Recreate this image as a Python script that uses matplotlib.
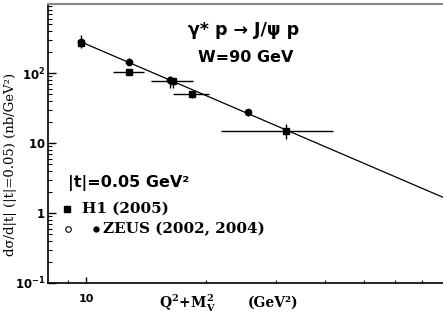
import matplotlib
matplotlib.use('Agg')
import matplotlib.pyplot as plt
import numpy as np
from matplotlib.ticker import FixedLocator, NullFormatter, FixedFormatter
from matplotlib.lines import Line2D

plt.rcParams['mathtext.fontset'] = 'custom'
plt.rcParams['mathtext.rm'] = 'DejaVu Serif:bold'
plt.rcParams['mathtext.bf'] = 'DejaVu Serif:bold'
plt.rcParams['mathtext.it'] = 'DejaVu Serif:bold'
plt.rcParams['mathtext.sf'] = 'DejaVu Sans:bold'

# ---- data ----
h1_x = [9.7, 12.8, 16.6, 18.5, 31.9]
h1_y = [272, 104, 77, 50, 14.7]
h1_xlo = [9.7, 11.7, 14.6, 16.6, 21.9]
h1_xhi = [9.7, 14.0, 18.6, 20.4, 41.8]
h1_ylo = [228, 94, 62, 44, 11.4]
h1_yhi = [345, 112, 86, 55, 18.7]

zeus_x = [9.7, 12.8, 16.3, 25.6]
zeus_y = [282, 145, 79, 27.5]
zeus_ylo = [250, 130, 62, 24]
zeus_yhi = [320, 162, 90, 31]

fit_x0 = 9.7
fit_norm = 280.0
fit_slope = 2.44
fit_range = [9.7, 100.0]

ytick_vals = [0.1, 1, 10, 100]
ytick_labels = [r'$\mathsf{10^{-1}}$', r'$\mathsf{1}$', r'$\mathsf{10}$', r'$\mathsf{10^{2}}$']
xtick_vals = [10]
xtick_labels = ['10']

# ---- figure ----
fig = plt.figure(figsize=(4.43, 3.17), dpi=100)
ax = fig.add_axes([48/443, 1-283/317, 1-48/443, 279/317])
ax.set_xscale('log')
ax.set_yscale('log')
ax.set_xlim(8.03, 79)
ax.set_ylim(0.1, 970)

# fit line
fx = np.logspace(np.log10(fit_range[0]), np.log10(fit_range[1]), 50)
fy = fit_norm * (fx / fit_x0) ** (-fit_slope)
ax.plot(fx, fy, color='black', lw=0.9, zorder=2)

# H1
h1_x_a = np.array(h1_x); h1_y_a = np.array(h1_y)
xerr = [h1_x_a - np.array(h1_xlo), np.array(h1_xhi) - h1_x_a]
yerr = [h1_y_a - np.array(h1_ylo), np.array(h1_yhi) - h1_y_a]
ax.errorbar(h1_x_a, h1_y_a, xerr=xerr, yerr=yerr, fmt='s', ms=5, color='black',
            ecolor='black', elinewidth=1.0, capsize=0, zorder=3)

# ZEUS
zx = np.array(zeus_x); zy = np.array(zeus_y)
zerr = [zy - np.array(zeus_ylo), np.array(zeus_yhi) - zy]
ax.errorbar(zx, zy, yerr=zerr, fmt='o', ms=4.5, color='black', ecolor='black',
            elinewidth=1.0, capsize=0, zorder=3)

# axes styling
ax.spines['right'].set_visible(False)
ax.spines['top'].set_color('#888888')
ax.spines['top'].set_linewidth(1.5)
ax.spines['left'].set_linewidth(1.2)
ax.spines['bottom'].set_linewidth(1.2)

ax.yaxis.set_major_locator(FixedLocator(ytick_vals))
ax.yaxis.set_major_formatter(FixedFormatter(ytick_labels))
yminor = [m * 10.0**e for e in range(-1, 3) for m in range(2, 10)]
ax.yaxis.set_minor_locator(FixedLocator(yminor))
ax.yaxis.set_minor_formatter(NullFormatter())

ax.xaxis.set_major_locator(FixedLocator(xtick_vals))
ax.xaxis.set_major_formatter(FixedFormatter(xtick_labels))
ax.xaxis.set_minor_locator(FixedLocator([9, 20, 30, 40, 50, 60, 70]))
ax.xaxis.set_minor_formatter(NullFormatter())

ax.tick_params(axis='both', which='both', direction='in', top=False, right=False)
ax.tick_params(axis='y', which='major', length=5.5, width=1, labelsize=8.5, pad=2)
ax.tick_params(axis='y', which='minor', length=3, width=0.8)
ax.tick_params(axis='x', which='major', length=4, width=1, pad=8)
ax.tick_params(axis='x', which='minor', length=2, width=0.8)
for lab in ax.get_xticklabels():
    lab.set_fontfamily('DejaVu Sans'); lab.set_fontweight('bold'); lab.set_fontsize(8)

# texts
sans = ['DejaVu Sans']
serif = ['DejaVu Serif']
fig.text(188/443, 1-30/317, 'γ* p → J/ψ p', family=sans, weight='bold', fontsize=12.5,
         ha='left', va='center')
fig.text(198/443, 1-57/317, 'W=90 GeV', family=sans, weight='bold', fontsize=11.5,
         ha='left', va='center')
fig.text(68/443, 1-183/317, '|t|=0.05 GeV²', family=sans, weight='bold', fontsize=11.5,
         ha='left', va='center')
fig.text(82/443, 1-209/317, 'H1 (2005)', family=serif, weight='bold', fontsize=11,
         ha='left', va='center')
fig.text(103/443, 1-229/317, 'ZEUS (2002, 2004)', family=serif, weight='bold', fontsize=11,
         ha='left', va='center')
fig.add_artist(Line2D([67/443], [1-209/317], marker='s', ms=4.5, color='black', lw=0))
fig.add_artist(Line2D([68/443], [1-229/317], marker='o', ms=4, mfc='white', mec='black', mew=0.8, lw=0))
fig.add_artist(Line2D([96/443], [1-229/317], marker='o', ms=3.5, color='black', lw=0))

fig.text(11/443, 1-164/317, 'dσ/d|t| (|t|=0.05) (nb/GeV²)', family=serif, fontsize=9.5,
         rotation=90, ha='center', va='center')
fig.text(188/443, 1-303/317, r'$\mathrm{Q^{2}\!+\!M_{V}^{2}}$', fontsize=10,
         ha='center', va='center')
fig.text(273/443, 1-303/317, '(GeV²)', family=serif, weight='bold', fontsize=10,
         ha='center', va='center')

fig.savefig('out.png', dpi=100)
